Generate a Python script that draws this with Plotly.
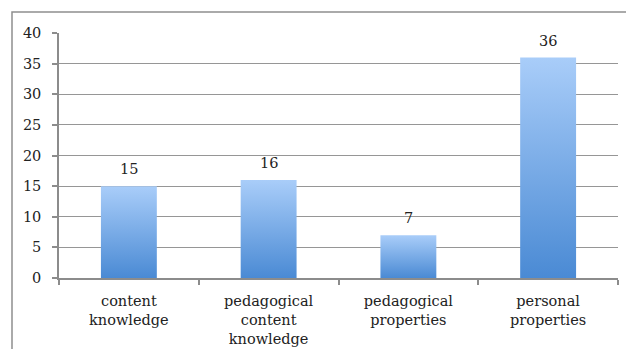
import plotly.graph_objects as go

categories = ["content<br>knowledge", "pedagogical<br>content<br>knowledge",
              "pedagogical<br>properties", "personal<br>properties"]
values = [15, 16, 7, 36]
y_ticks = [0, 5, 10, 15, 20, 25, 30, 35, 40]

BAR_HALF = 0.2
FONT = "DejaVu Serif"

fig = go.Figure()
for i, v in enumerate(values):
    fig.add_trace(go.Scatter(
        x=[i - BAR_HALF, i + BAR_HALF, i + BAR_HALF, i - BAR_HALF, i - BAR_HALF],
        y=[0, 0, v, v, 0],
        mode="lines", fill="toself", line=dict(width=0),
        fillgradient=dict(type="vertical",
                          colorscale=[[0, "#4a8ad4"], [1, "#a9cdf9"]]),
        hoverinfo="skip", showlegend=False,
    ))

annotations = [dict(x=i, y=v, xref="x", yref="y", text=str(v), showarrow=False,
                    yshift=17, font=dict(family=FONT, size=14.5, color="#222"))
               for i, v in enumerate(values)]

fig.update_layout(
    width=626, height=349,
    margin=dict(l=59, r=8, t=33, b=71),
    plot_bgcolor="white", paper_bgcolor="white",
    font=dict(family=FONT, size=14.5, color="#222"),
    annotations=annotations,
    xaxis=dict(range=[-0.5, len(values) - 0.5], tickvals=list(range(len(values))),
               ticktext=categories, ticks="", showgrid=False, zeroline=False,
               showline=True, linecolor="#8c8c8c", linewidth=1.5,
               ticklabelstandoff=9, automargin=False,
               minor=dict(ticks="outside", tick0=-0.5, dtick=1, ticklen=5,
                          tickcolor="#8c8c8c", tickwidth=1.5, showgrid=False),
               fixedrange=True),
    yaxis=dict(range=[0, 40], tickvals=y_ticks, ticks="outside", ticklen=5,
               tickcolor="#8c8c8c", tickwidth=1.5, showgrid=True,
               gridcolor="#969696", gridwidth=1, zeroline=False,
               showline=True, linecolor="#8c8c8c", linewidth=1.5,
               ticklabelstandoff=8, automargin=False, fixedrange=True),
    shapes=[dict(type="rect", xref="paper", yref="paper",
                 x0=(12 - 59) / 559, x1=1.2, y0=-0.6, y1=1 + (33 - 12) / 245,
                 line=dict(color="#8e8e8e", width=1.5), layer="below")],
)

fig.write_html("out.html")
